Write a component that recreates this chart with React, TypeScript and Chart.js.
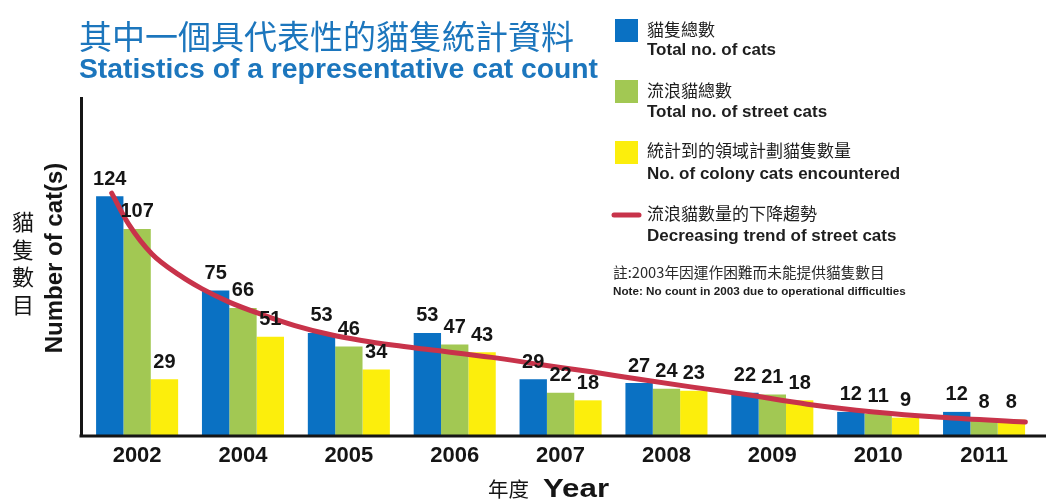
import React, { useEffect, useRef } from 'react';
import { Chart, registerables } from 'chart.js';

Chart.register(...registerables);

// ---------- data ----------
const years = ['2002', '2004', '2005', '2006', '2007', '2008', '2009', '2010', '2011'];
const totalCats = [124, 75, 53, 53, 29, 27, 22, 12, 12];
const streetCats = [107, 66, 46, 47, 22, 24, 21, 11, 8];
const colonyCats = [29, 51, 34, 43, 18, 23, 18, 9, 8];
// trend curve: position in category-index units and value
const trendPos = [-0.24, -0.08, 0.14, 0.4, 0.61, 0.87, 1.18, 1.49, 1.81, 2.12, 2.43, 2.75, 3.35, 3.82, 4.29, 4.76, 5.23, 5.7, 6.33, 6.96, 7.59, 8.39];
const trendVal = [125.6, 109.5, 94.0, 83.0, 76.0, 69.0, 62.5, 56.8, 52.3, 49.1, 46.6, 44.4, 40.3, 36.5, 32.8, 28.8, 25.0, 21.4, 16.0, 12.0, 9.2, 6.7];
const yMax = 175;

// ---------- text ----------
const seriesZh = ['貓隻總數', '流浪貓總數', '統計到的領域計劃貓隻數量', '流浪貓數量的下降趨勢'];
const seriesEn = ['Total no. of cats', 'Total no. of street cats', 'No. of colony cats encountered', 'Decreasing trend of street cats'];
const titleZh = '其中一個具代表性的貓隻統計資料';
const titleEn = 'Statistics of a representative cat count';
const noteZh = '註:2003年因運作困難而未能提供貓隻數目';
const noteEn = 'Note: No count in 2003 due to operational difficulties';
const yTitleZh = ['貓', '隻', '數', '目'];
const yTitleEn = 'Number of cat(s)';
const xTitleZh = '年度';
const xTitleEn = 'Year';

// ---------- style ----------
const BLUE = '#0a71c3';
const GREEN = '#a2c853';
const YELLOW = '#fcee0c';
const RED = '#c8334a';
const TITLE_BLUE = '#1c76bd';
const INK = '#151515';
const SANS = '"Liberation Sans", Arial, sans-serif';
const CJK = '"Noto Sans CJK TC", "Noto Sans CJK SC", sans-serif';

const valueLabels = {
  id: 'valueLabels',
  afterDatasetsDraw(chart: any) {
    const ctx = chart.ctx;
    ctx.save();
    ctx.font = `bold 20px ${SANS}`;
    ctx.fillStyle = INK;
    ctx.textAlign = 'center';
    ctx.textBaseline = 'bottom';
    chart.data.datasets.forEach((ds: any, di: number) => {
      if (ds.type === 'line') return;
      const meta = chart.getDatasetMeta(di);
      meta.data.forEach((el: any, i: number) => {
        ctx.fillText(String(ds.data[i].y), el.x, el.y - 7);
      });
    });
    // x axis line extending to the right edge
    const a = chart.chartArea;
    ctx.strokeStyle = INK;
    ctx.lineWidth = 3;
    ctx.beginPath();
    ctx.moveTo(a.left - 1.5, a.bottom + 1);
    ctx.lineTo(chart.width, a.bottom + 1);
    ctx.stroke();
    ctx.restore();
  },
};

const overlay = {
  id: 'overlay',
  afterDraw(chart: any) {
    const ctx = chart.ctx;
    const a = chart.chartArea;
    ctx.save();
    // Titles
    ctx.fillStyle = TITLE_BLUE;
    ctx.textAlign = 'left';
    ctx.textBaseline = 'middle';
    ctx.font = `33px ${CJK}`;
    ctx.fillText(titleZh, 79, 36);
    ctx.textBaseline = 'alphabetic';
    ctx.font = `bold 28.3px ${SANS}`;
    ctx.fillText(titleEn, 79, 78);

    // Legend
    const lx = 615;
    const tx = 647;
    const rows = [
      { color: BLUE, top: 19, zh: 30, en: 50 },
      { color: GREEN, top: 80, zh: 91, en: 112 },
      { color: YELLOW, top: 141, zh: 151, en: 174 },
      { color: RED, top: -1, zh: 214, en: 236 },
    ];
    rows.forEach((r, i) => {
      if (i < 3) {
        ctx.fillStyle = r.color;
        ctx.fillRect(lx, r.top, 23, 23);
      } else {
        ctx.strokeStyle = r.color;
        ctx.lineWidth = 5;
        ctx.lineCap = 'round';
        ctx.beginPath();
        ctx.moveTo(lx - 1, 215);
        ctx.lineTo(lx + 24, 215);
        ctx.stroke();
      }
      ctx.fillStyle = '#1e1e1e';
      ctx.textBaseline = 'middle';
      ctx.font = `17px ${CJK}`;
      ctx.fillText(seriesZh[i], tx, r.zh);
      ctx.font = `bold 17px ${SANS}`;
      ctx.fillText(seriesEn[i], tx, r.en);
    });
    ctx.fillStyle = '#2a2a2a';
    ctx.font = `14.7px ${CJK}`;
    ctx.fillText(noteZh, 613, 272);
    ctx.fillStyle = '#1e1e1e';
    ctx.font = `bold 11.7px ${SANS}`;
    ctx.fillText(noteEn, 613, 292);

    // Y titles
    ctx.fillStyle = INK;
    ctx.textAlign = 'center';
    ctx.font = `22px ${CJK}`;
    yTitleZh.forEach((c, i) => ctx.fillText(c, 23, 222 + i * 27.5));
    ctx.save();
    ctx.translate(55, 258);
    ctx.rotate(-Math.PI / 2);
    ctx.font = `bold 24px ${SANS}`;
    ctx.fillText(yTitleEn, 0, 0);
    ctx.restore();

    // X title
    ctx.textAlign = 'left';
    ctx.font = `20.5px ${CJK}`;
    const wZh = ctx.measureText(xTitleZh).width;
    const zhX = (a.left + a.right) / 2 - 71;
    ctx.fillText(xTitleZh, zhX, 489);
    ctx.save();
    ctx.translate(zhX + wZh + 14, 497);
    ctx.scale(1.25, 1);
    ctx.textBaseline = 'alphabetic';
    ctx.font = `bold 25px ${SANS}`;
    ctx.fillText(xTitleEn, 0, 0);
    ctx.restore();
    ctx.restore();
  },
};

export default function App() {
  const ref = useRef<HTMLCanvasElement | null>(null);

  useEffect(() => {
    if (!ref.current) return;
    const barOpts = { categoryPercentage: 0.775, barPercentage: 1, xAxisID: 'x', yAxisID: 'y', order: 1, borderWidth: 0 };
    const toPoints = (arr: number[]) => arr.map((v, i) => ({ x: i, y: v }));
    const chart = new Chart(ref.current, {
      type: 'bar',
      data: {
        datasets: [
          { type: 'bar', label: seriesEn[0], data: toPoints(totalCats), backgroundColor: BLUE, ...barOpts },
          { type: 'bar', label: seriesEn[1], data: toPoints(streetCats), backgroundColor: GREEN, ...barOpts },
          { type: 'bar', label: seriesEn[2], data: toPoints(colonyCats), backgroundColor: YELLOW, ...barOpts },
          {
            type: 'line',
            label: seriesEn[3],
            data: trendPos.map((p, i) => ({ x: p, y: trendVal[i] })),
            xAxisID: 'x',
            yAxisID: 'y',
            borderColor: RED,
            borderWidth: 5,
            borderCapStyle: 'round',
            pointRadius: 0,
            tension: 0.4,
            cubicInterpolationMode: 'monotone',
            fill: false,
            order: 0,
          } as any,
        ],
      },
      options: {
        responsive: true,
        maintainAspectRatio: false,
        animation: false,
        layout: { padding: { top: 98, right: 9, left: 0, bottom: 0 } },
        plugins: {
          legend: { display: false },
          title: { display: false },
          tooltip: { enabled: false },
        },
        scales: {
          x: {
            type: 'linear',
            min: -0.53,
            max: 8.5,
            offset: false,
            grid: { display: false, drawTicks: false, offset: false },
            border: { display: false },
            afterBuildTicks: (s: any) => {
              s.ticks = years.map((_, i) => ({ value: i }));
            },
            ticks: {
              color: INK,
              font: { family: SANS, size: 22, weight: 'bold' },
              padding: 8,
              maxRotation: 0,
              autoSkip: false,
              callback: (v: any) => years[v] ?? '',
            },
            afterFit: (s: any) => {
              s.height = 65;
            },
          },
          y: {
            type: 'linear',
            min: 0,
            max: yMax,
            grid: { display: false, drawTicks: false },
            border: { display: true, color: INK, width: 3 },
            ticks: { display: false },
            afterFit: (s: any) => {
              s.width = 81;
            },
          },
        },
      } as any,
      plugins: [valueLabels, overlay],
    });
    return () => chart.destroy();
  }, []);

  return (
    <div style={{ position: 'fixed', left: 0, top: 0, width: 1046, height: 500, background: '#ffffff' }}>
      <canvas ref={ref} />
    </div>
  );
}
